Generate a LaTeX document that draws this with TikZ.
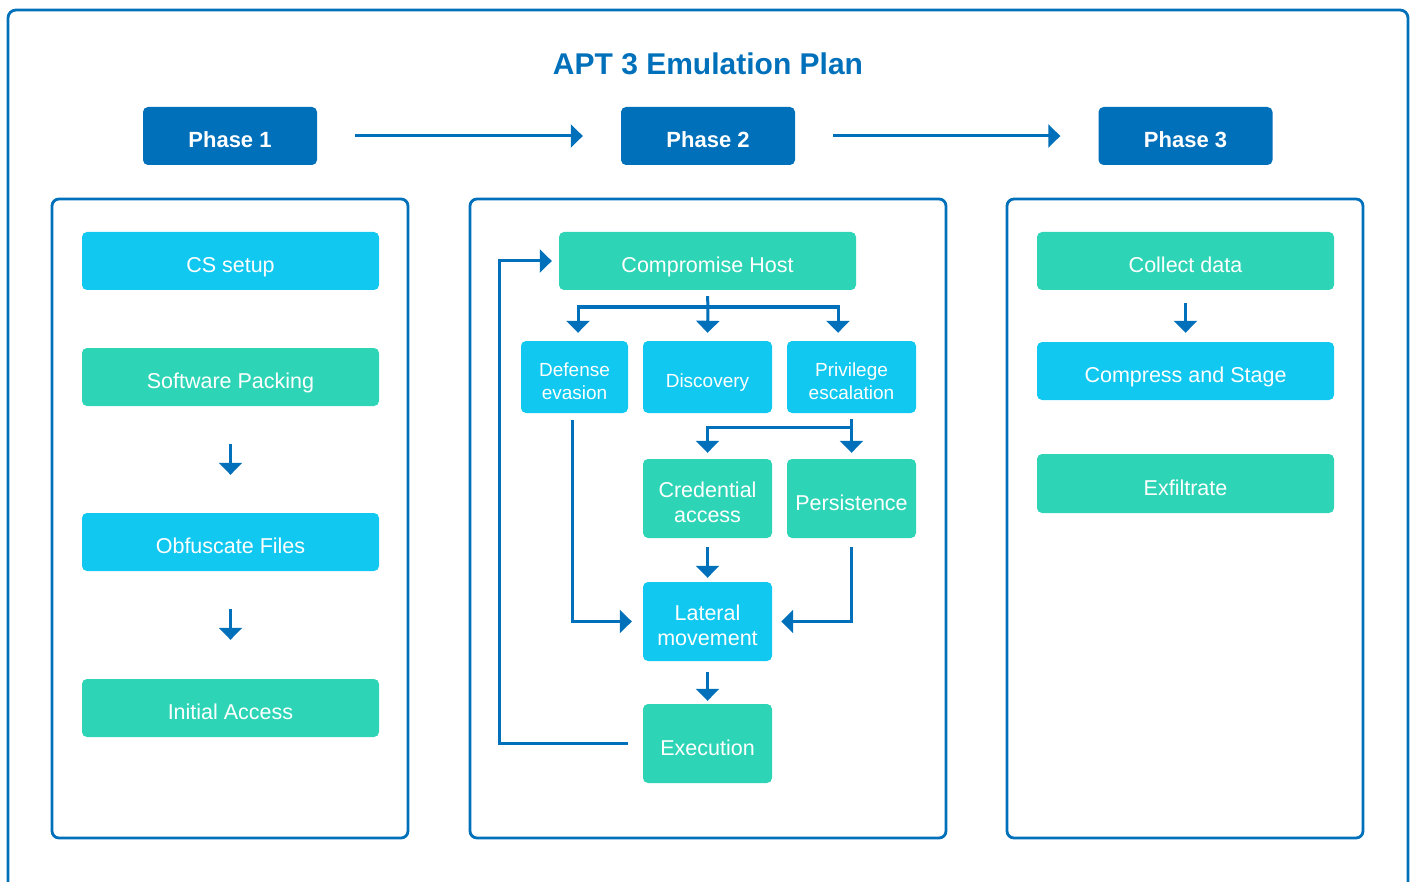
\documentclass[tikz,border=0pt]{standalone}
\usepackage{fontspec}
\setmainfont{Liberation Sans}
\usetikzlibrary{arrows.meta}
\definecolor{dblue}{HTML}{0070BA}
\definecolor{cyanbox}{HTML}{10C8F0}
\definecolor{tealbox}{HTML}{2DD5B6}
\tikzset{
  mlbl/.style={text=white, inner sep=0pt, align=center, yshift=-4pt,
              font=\fontsize{21.5}{25.5}\selectfont},
  lbl/.style={mlbl, text depth=0pt},
  slbl/.style={mlbl, font=\fontsize{19}{23}\selectfont},
  s1lbl/.style={slbl, text depth=0pt},
  box/.style={rounded corners=5pt, inner sep=0pt},
  cbox/.style={box, fill=cyanbox, label={[lbl]center:#1}},
  tbox/.style={box, fill=tealbox, label={[lbl]center:#1}},
  mcbox/.style={box, fill=cyanbox, label={[mlbl]center:#1}},
  mtbox/.style={box, fill=tealbox, label={[mlbl]center:#1}},
  scbox/.style={box, fill=cyanbox, label={[slbl]center:#1}},
  s1cbox/.style={box, fill=cyanbox, label={[s1lbl]center:#1}},
  phasebox/.style={rounded corners=5pt, fill=dblue, inner sep=0pt,
              minimum width=174pt, minimum height=58pt,
              label={[text=white, yshift=-4pt, inner sep=0pt, font=\fontsize{22}{26}\selectfont\bfseries]center:#1}},
  panel/.style={draw=dblue, line width=2.8pt, rounded corners=7pt},
  arr/.style={draw=dblue, line width=3pt, -{Triangle[width=23pt,length=12pt]}},
  conn/.style={draw=dblue, line width=3pt},
  wide/.style={minimum width=297pt, minimum height=58pt},
  mid/.style={minimum width=129pt, minimum height=79pt},
}
\begin{document}
\begin{tikzpicture}[x=1pt,y=-1pt]
\useasboundingbox (0,0) rectangle (1412,882);
\clip (0,0) rectangle (1412,882);
% outer frame
\draw[draw=dblue, line width=2.8pt, rounded corners=8pt] (8,10) rectangle (1408,920);
% title
\node[text=dblue, font=\fontsize{30}{36}\selectfont\bfseries] (title) at (708,64) {APT 3 Emulation Plan};
% phases
\node[phasebox={Phase 1}] (p1) at (230,136) {};
\node[phasebox={Phase 2}] (p2) at (708,136) {};
\node[phasebox={Phase 3}] (p3) at (1185.5,136) {};
\draw[arr] ([xshift=38pt]p1.east) -- ([xshift=-38pt]p2.west);
\draw[arr] ([xshift=38pt]p2.east) -- ([xshift=-38pt]p3.west);
% panels
\draw[panel] (52,199) rectangle (408,838);
\draw[panel] (470,199) rectangle (946,838);
\draw[panel] (1007,199) rectangle (1363,838);
% panel 1
\node[cbox={CS setup}, wide] (cs) at (230.5,261) {};
\node[tbox={Software Packing}, wide] (sw) at (230.5,377) {};
\node[cbox={Obfuscate Files}, wide] (ob) at (230.5,542) {};
\node[tbox={Initial Access}, wide] (ia) at (230.5,708) {};
\draw[arr] ([yshift=-38pt]sw.south) -- ([yshift=38pt]ob.north);
\draw[arr] ([yshift=-38pt]ob.south) -- ([yshift=39pt]ia.north);
% panel 2
\node[tbox={Compromise Host}, wide] (ch) at (707.5,261) {};
\node[scbox={Defense\\evasion}, minimum width=107pt, minimum height=72pt] (de) at (574.5,377) {};
\node[s1cbox={Discovery}, minimum width=129pt, minimum height=72pt] (di) at (707.5,377) {};
\node[scbox={Privilege\\escalation}, minimum width=129pt, minimum height=72pt] (pe) at (851.5,377) {};
\node[mtbox={Credential\\access}, mid] (cr) at (707.5,498.5) {};
\node[tbox={Persistence}, mid] (ps) at (851.5,498.5) {};
\node[mcbox={Lateral\\movement}, mid] (lm) at (707.5,621.5) {};
\node[tbox={Execution}, mid] (ex) at (707.5,743.5) {};
\coordinate (br) at (708,307);
\coordinate (lp) at (499,743);
\draw[conn] ([yshift=-6pt]ch.south) -- (br);
\draw[arr] (br) -- ([yshift=8pt]di.north);
\draw[arr] (br) -| ([xshift=3.5pt,yshift=8pt]de.north);
\draw[arr] (br) -| ([xshift=-13.5pt,yshift=8pt]pe.north);
\draw[arr] ([yshift=-6pt]pe.south) -- ([yshift=6pt]ps.north);
\draw[arr] ([yshift=-14pt]pe.south) -| ([yshift=6pt]cr.north);
\draw[arr] ([yshift=-9pt]cr.south) -- ([yshift=4pt]lm.north);
\draw[arr] ([yshift=-11pt]lm.south) -- ([yshift=3pt]ex.north);
\draw[arr] ([xshift=-2.5pt,yshift=-7pt]de.south) |- ([xshift=-11pt]lm.west);
\draw[arr] ([yshift=-9pt]ps.south) |- ([xshift=9pt]lm.east);
\draw[arr] ([xshift=-15pt]ex.west) -- (ex.west -| lp) |- ([xshift=-7pt]ch.west);
% panel 3
\node[tbox={Collect data}, wide] (cd) at (1185.5,261) {};
\node[cbox={Compress and Stage}, wide] (cp) at (1185.5,371) {};
\node[tbox={Exfiltrate}, minimum width=297pt, minimum height=59pt] (xf) at (1185.5,483.5) {};
\draw[arr] ([yshift=-13pt]cd.south) -- ([yshift=9pt]cp.north);
\end{tikzpicture}
\end{document}
